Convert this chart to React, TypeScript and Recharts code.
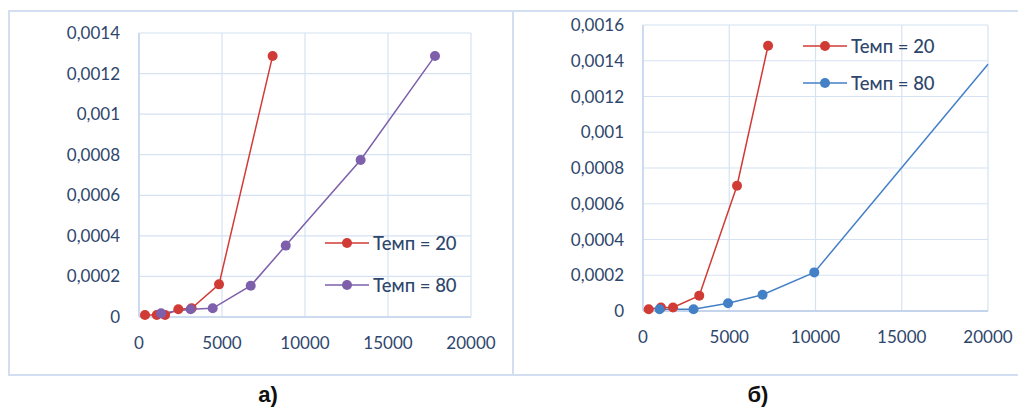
import React from "react";
import { LineChart, Line, XAxis, YAxis, CartesianGrid } from "recharts";

// chart a)
const a20X = [360, 1070, 1570, 2370, 3170, 4820, 8050];
const a20Y = [0.00001, 0.00001, 0.00001, 0.000038, 0.000043, 0.000161, 0.001287];
const a80X = [1330, 3110, 4440, 6730, 8840, 13350, 17830];
const a80Y = [0.000018, 0.000038, 0.000043, 0.000154, 0.000352, 0.000774, 0.001287];

// chart б)
const b20X = [330, 1040, 1740, 3260, 5450, 7250];
const b20Y = [0.00001, 0.00002, 0.00002, 0.000086, 0.000701, 0.001484];
const b80X = [960, 2930, 4930, 6930, 9930, 20000];
const b80Y = [0.00001, 0.00001, 0.000043, 0.000091, 0.000216, 0.00138];

const xTicks = [0, 5000, 10000, 15000, 20000];
const aYTicks = [0, 0.0002, 0.0004, 0.0006, 0.0008, 0.001, 0.0012, 0.0014];
const bYTicks = [0, 0.0002, 0.0004, 0.0006, 0.0008, 0.001, 0.0012, 0.0014, 0.0016];

const seriesNames = ["Темп = 20", "Темп = 80"];

const RED = "#d13b35";
const PURPLE = "#7d5fab";
const BLUE = "#4480c6";
const GRID = "#d6e2f2";
const TEXT = "#2e466c";
const FONT = "Lato, 'Open Sans', sans-serif";
const FRAME = "#d3dff0";

const zip = (xs: number[], ys: number[]) => xs.map((x, i) => ({ x, y: ys[i] }));

const fmtY = (v: number) => (v === 0 ? "0" : String(v).replace(".", ","));

// Excel-like legend: line with a marker in the middle, then the name
const ChartLegend = ({ colors, left, top, rowGap }: { colors: string[]; left: number; top: number; rowGap: number }) => (
  <div style={{ position: "absolute", left, top, fontFamily: FONT, fontSize: 18.5, color: TEXT, fontWeight: 500 }}>
    {seriesNames.map((n, i) => (
      <div
        key={n}
        style={{ display: "flex", alignItems: "center", height: 20, marginBottom: i === 0 ? rowGap - 20 : 0 }}
      >
        <svg width={44} height={12} style={{ marginRight: 4 }}>
          <line x1={0} y1={6} x2={44} y2={6} stroke={colors[i]} strokeWidth={1.5} />
          <circle cx={22} cy={6} r={5} fill={colors[i]} />
        </svg>
        <span>{n}</span>
      </div>
    ))}
  </div>
);

const dotFor = (color: string, skipLast = 0, count = 0) => (p: any) => {
  if (skipLast && p.index >= count - skipLast) return <g key={p.index} />;
  return <circle key={p.index} cx={p.cx} cy={p.cy} r={5} fill={color} stroke="none" />;
};

const tickStyle = { fill: TEXT, fontSize: 17, fontFamily: FONT };
const captionStyle: React.CSSProperties = {
  position: "absolute",
  top: 382,
  width: 60,
  textAlign: "center",
  fontFamily: "'Liberation Sans', Arial, sans-serif",
  fontWeight: "bold",
  fontSize: 22,
  color: "#111",
};

export default function App() {
  const a20 = zip(a20X, a20Y);
  const a80 = zip(a80X, a80Y);
  const b20 = zip(b20X, b20Y);
  const b80 = zip(b80X, b80Y);

  return (
    <div style={{ position: "absolute", left: 0, top: 0, width: 1018, height: 409, background: "#fff" }}>
      {/* frames */}
      <div style={{ position: "absolute", left: 8, top: 10, width: 1010, height: 0, borderTop: `2px solid ${FRAME}` }} />
      <div style={{ position: "absolute", left: 8, top: 374, width: 1010, height: 0, borderTop: `2px solid ${FRAME}` }} />
      <div style={{ position: "absolute", left: 8, top: 10, width: 0, height: 365, borderLeft: `2px solid ${FRAME}` }} />
      <div style={{ position: "absolute", left: 512, top: 10, width: 0, height: 365, borderLeft: `2px solid ${FRAME}` }} />

      <div style={{ position: "absolute", left: 0, top: 0 }}>
        <LineChart width={510} height={375} margin={{ top: 33, right: 39, bottom: 28, left: 79 }}>
          <CartesianGrid stroke={GRID} strokeWidth={1.2} />
          <XAxis
            type="number"
            dataKey="x"
            domain={[0, 20000]}
            ticks={xTicks}
            height={30}
            tickSize={0}
            tickMargin={20}
            axisLine={{ stroke: "#c3d4ec", strokeWidth: 1.5 }}
            tick={tickStyle}
            interval={0}
          />
          <YAxis
            type="number"
            dataKey="y"
            domain={[0, 0.0014]}
            ticks={aYTicks}
            width={60}
            tickSize={0}
            tickMargin={19}
            axisLine={{ stroke: "#c3d4ec", strokeWidth: 1.5 }}
            tick={tickStyle}
            tickFormatter={fmtY}
            interval={0}
          />
          <Line data={a20} dataKey="y" name={seriesNames[0]} stroke={RED} strokeWidth={1.5} dot={dotFor(RED)} isAnimationActive={false} />
          <Line data={a80} dataKey="y" name={seriesNames[1]} stroke={PURPLE} strokeWidth={1.5} dot={dotFor(PURPLE)} isAnimationActive={false} />
        </LineChart>
      </div>
      <ChartLegend colors={[RED, PURPLE]} left={325} top={233} rowGap={42} />

      <div style={{ position: "absolute", left: 510, top: 0 }}>
        <LineChart width={508} height={375} margin={{ top: 25, right: 30, bottom: 34, left: 73 }} style={{ overflow: "visible" }}>
          <CartesianGrid stroke={GRID} strokeWidth={1.2} />
          <XAxis
            type="number"
            dataKey="x"
            domain={[0, 20000]}
            ticks={xTicks}
            height={30}
            tickSize={0}
            tickMargin={20}
            axisLine={{ stroke: "#b7cbe8", strokeWidth: 1.5 }}
            tick={tickStyle}
            interval={0}
          />
          <YAxis
            type="number"
            dataKey="y"
            domain={[0, 0.0016]}
            ticks={bYTicks}
            width={60}
            tickSize={0}
            tickMargin={19}
            axisLine={{ stroke: "#c3d4ec", strokeWidth: 1.5 }}
            tick={tickStyle}
            tickFormatter={fmtY}
            interval={0}
          />
          <Line data={b20} dataKey="y" name={seriesNames[0]} stroke={RED} strokeWidth={1.5} dot={dotFor(RED)} isAnimationActive={false} />
          <Line data={b80} dataKey="y" name={seriesNames[1]} stroke={BLUE} strokeWidth={1.5} dot={dotFor(BLUE, 1, b80.length)} isAnimationActive={false} />
        </LineChart>
      </div>
      <ChartLegend colors={[RED, BLUE]} left={803} top={36} rowGap={37} />

      <div style={{ ...captionStyle, left: 238 }}>а)</div>
      <div style={{ ...captionStyle, left: 728 }}>б)</div>
    </div>
  );
}
